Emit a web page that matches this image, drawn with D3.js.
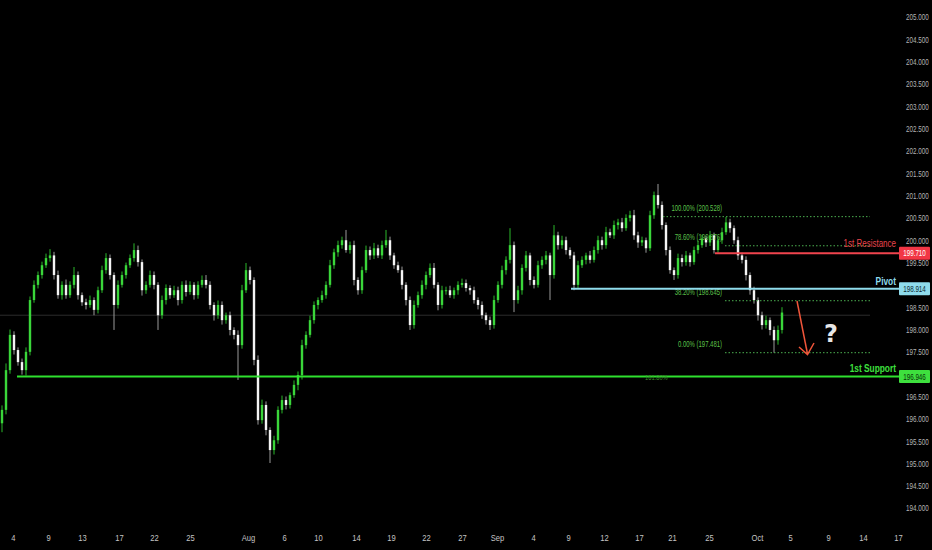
<!DOCTYPE html>
<html><head><meta charset="utf-8">
<script src="https://cdn.jsdelivr.net/npm/d3@7"></script>
<style>body{margin:0;background:#000;overflow:hidden}</style>
</head><body>
<svg id="c" width="932" height="550"></svg>
<script>
// ---------- DATA ----------
const firstOpen = 195.90;
const closes = [
196.20,197.09,197.88,197.54,197.27,197.09,197.50,198.66,199.00,199.22,
199.44,199.60,199.66,199.22,198.77,199.00,198.77,199.00,199.22,198.77,
198.61,198.55,198.66,198.44,198.88,199.33,199.60,199.22,198.55,199.00,
199.22,199.44,199.60,199.78,199.51,198.88,199.00,199.22,199.00,198.32,
198.66,198.93,198.77,198.88,198.66,199.00,198.84,199.00,198.77,199.00,
199.11,199.00,198.55,198.32,198.55,198.21,198.32,197.99,197.88,197.65,
198.88,199.33,199.11,197.32,195.97,196.31,195.75,195.30,195.52,196.20,
196.42,196.31,196.53,196.76,196.98,197.65,197.88,198.21,198.55,198.66,
198.77,199.00,199.44,199.73,199.89,200.00,199.78,199.89,199.11,198.88,
199.33,199.78,199.66,199.82,199.66,199.89,200.00,199.66,199.44,199.33,
199.00,198.66,198.10,198.55,198.77,199.00,199.22,199.38,199.00,198.55,
198.88,198.88,198.77,198.88,199.00,199.04,198.93,198.88,198.66,198.55,
198.32,198.21,198.10,198.66,199.00,199.33,199.56,199.89,198.66,198.88,
199.38,199.66,199.11,199.00,199.44,199.56,199.66,199.22,200.11,199.89,
200.00,199.78,199.66,199.00,199.44,199.56,199.66,199.56,199.78,200.00,
199.89,200.18,200.11,200.34,200.40,200.27,200.50,200.56,200.11,199.95,
200.00,199.82,200.56,201.01,200.79,200.34,199.78,199.33,199.22,199.60,
199.51,199.66,199.51,199.78,199.89,200.04,199.95,200.11,199.78,200.00,
200.18,200.40,200.27,200.00,199.66,199.56,199.22,198.88,198.66,198.32,
198.10,198.21,197.99,197.76,197.99,198.38
];
// wick extents in hundredths of a yen
const wickUp = [
10,15,12,8,6,8,10,8,10,8, 8,10,14,8,10,8,12,8,18,8, 6,8,10,6,8,10,11,8,6,10,
8,6,8,15,10,6,8,10,8,6, 10,8,6,10,8,8,10,8,6,8, 10,11,8,6,10,8,6,8,6,10,
12,16,8,6,10,12,8,6,10,8, 10,8,6,10,8,12,8,10,8,6, 10,8,12,8,10,8,23,8,10,6,
8,10,8,12,8,10,23,8,6,8, 8,6,8,10,8,10,8,10,11,6, 10,8,10,6,8,10,8,6,8,6,
8,6,8,10,8,10,8,38,8,10, 8,10,6,8,10,8,10,6,23,8, 10,8,6,8,10,8,6,10,8,10,
8,12,8,10,8,10,8,10,12,8, 8,6,10,8,25,8,6,8,6,10, 8,10,6,8,10,8,6,10,6,8,
10,12,8,6,8,6,8,6,8,6, 8,10,6,8,10,12
];
const wickDn = [
20,10,8,10,8,10,12,8,6,8, 8,6,8,10,8,10,8,6,8,10, 8,10,6,12,8,6,8,10,56,8,
6,8,6,8,10,12,8,6,10,33, 8,10,8,6,12,8,10,6,10,8, 6,8,10,12,8,10,8,12,10,78,
8,6,10,12,10,8,12,29,10,8, 8,10,8,6,12,10,8,6,8,10, 6,8,6,8,10,8,6,8,12,10,
8,6,10,8,6,8,6,10,8,6, 10,12,11,8,6,8,10,6,8,12, 8,10,6,8,10,6,8,10,8,10,
8,10,11,8,6,8,10,8,27,8, 10,8,12,8,6,8,10,56,8,10, 8,10,8,12,8,6,10,8,6,8,
10,8,6,8,10,8,6,8,10,12, 8,10,6,8,8,10,12,8,11,8, 10,8,10,6,8,6,10,8,8,6,
8,6,10,8,10,8,12,10,8,12, 10,8,12,28,10,8
];
// 199.000 and 197.000 sit under the level boxes in the reference, so they are not shown
const yTicks = [205,204.5,204,203.5,203,202.5,202,201.5,201,200.5,200,199.5,198.5,198,197.5,196.5,196,195.5,195,194.5,194];
const xTickLabels = ["4","9","13","17","22","25","Aug","6","10","14","19","22","27","Sep","4","9","12","17","21","25","Oct","5","9","14","17"];
const xTickIdx = [2.7,11.5,20,29.25,38,47,61.5,70.5,79,88.5,97.25,106,115,123.75,132.75,141.5,150.5,159.25,167.5,176.75,188.75,197,206.5,215.25,224];
const support = 196.946, pivot = 198.914, resistance = 199.710;
const fibHigh = 200.528, fibLow = 197.481;
const fibLevels = [1.0, 0.786, 0.382, 0.0];
const lastPrice = 198.32;

// ---------- SCALES ----------
const svg = d3.select("#c");
svg.append("rect").attr("width",932).attr("height",550).attr("fill","#000");
const x = d3.scaleLinear().domain([0,217]).range([2,870]);
const y = d3.scaleLinear().domain([194,205]).range([508.1,17]);
const FONT = "Liberation Sans, Arial, sans-serif";

// condensed text: placed at (px,py) and squeezed horizontally like the reference's narrow font
function ctext(parent, px, py, str, size, sx, anchor, fill, weight){
  return parent.append("text")
    .attr("transform", `translate(${px},${py}) scale(${sx},1)`)
    .attr("text-anchor", anchor || "start")
    .attr("fill", fill).attr("font-family", FONT).attr("font-size", size)
    .attr("font-weight", weight || "normal").text(str);
}

// current price faint line
svg.append("line").attr("x1",0).attr("x2",870).attr("y1",y(lastPrice)).attr("y2",y(lastPrice))
  .attr("stroke","#2c2c2c").attr("stroke-width",1);

// ---------- CANDLES ----------
const candles = closes.map((c,i)=>{
  const o = i===0 ? firstOpen : closes[i-1];
  return {i, o, c, h: Math.max(o,c)+wickUp[i]/100, l: Math.min(o,c)-wickDn[i]/100};
});
const UP="#3ad63a", UPW="#2bb82b", DN="#f4f4f4", DNW="#9a9a9a";
const g = svg.append("g");
g.selectAll("line.w").data(candles).join("line")
  .attr("x1",d=>x(d.i)).attr("x2",d=>x(d.i))
  .attr("y1",d=>y(d.h)).attr("y2",d=>y(d.l))
  .attr("stroke",d=>d.c>=d.o?UPW:DNW).attr("stroke-width",1);
g.selectAll("rect.b").data(candles).join("rect")
  .attr("x",d=>x(d.i)-1.2).attr("width",2.4)
  .attr("y",d=>y(Math.max(d.o,d.c)))
  .attr("height",d=>Math.max(1,Math.abs(y(d.o)-y(d.c))))
  .attr("fill",d=>d.c>=d.o?UP:DN);

// ---------- FIB ----------
const fibStart = 180.75;
const fib = svg.append("g");
fibLevels.forEach(f=>{
  const p = fibLow + f*(fibHigh-fibLow);
  const xs = f===1 ? x(165.25) : x(fibStart);
  fib.append("line").attr("x1",xs).attr("x2",870).attr("y1",y(p)).attr("y2",y(p))
    .attr("stroke","#4caf50").attr("stroke-width",1).attr("stroke-dasharray","1.5,2");
  ctext(fib, x(fibStart)-3, y(p)-6, (f*100).toFixed(2)+"% ("+p.toFixed(3)+")", 8.5, 0.7, "end", "#5cc04a");
});

// ---------- LEVEL LINES ----------
function level(price, startIdx, color, width){
  svg.append("line").attr("x1",x(startIdx)).attr("x2",899).attr("y1",y(price)).attr("y2",y(price))
    .attr("stroke",color).attr("stroke-width",width);
}
level(support, 3.75, "#2ee02e", 2);
level(pivot, 142.25, "#8fdcec", 2);
level(resistance, 178.25, "#f0444e", 2);

ctext(svg, 645, y(support)+3, "161.80%", 8, 0.72, "start", "#3c8f2c");
ctext(svg, 896, y(support)-5, "1st Support", 11, 0.76, "end", "#3ee03e", "bold");
ctext(svg, 896, y(pivot)-4, "Pivot", 11, 0.76, "end", "#8fdcec", "bold");
ctext(svg, 896, y(resistance)-6, "1st Resistance", 10, 0.8, "end", "#e8444c");

// ---------- Y AXIS ----------
const yAxis = d3.axisRight(y).tickValues(yTicks).tickSize(0).tickPadding(0).tickFormat(d3.format(".3f"));
const ya = svg.append("g").attr("transform","translate(906,0)").call(yAxis);
ya.select(".domain").remove();
ya.selectAll("text").attr("fill","#b4b4b4").attr("font-family",FONT).attr("font-size",9)
  .attr("transform","scale(0.7,1)");

// price label boxes
function box(price, fill, txt){
  const yy = y(price);
  svg.append("rect").attr("x",899).attr("y",yy-6.5).attr("width",31).attr("height",13).attr("fill",fill).attr("rx",1);
  ctext(svg, 914.5, yy+3, price.toFixed(3), 9, 0.7, "middle", txt);
}
box(resistance,"#f23645","#ffffff");
box(pivot,"#8fdcec","#0b2a30");
box(support,"#3ee03e","#0a300a");

// ---------- X AXIS ----------
const xAxis = d3.axisBottom(x).tickValues(xTickIdx).tickSize(0).tickPadding(0)
  .tickFormat((d,i)=>xTickLabels[i]);
const xa = svg.append("g").attr("transform","translate(0,534)").call(xAxis);
xa.select(".domain").remove();
xa.selectAll("text").attr("fill","#c4c4c4").attr("font-family",FONT).attr("font-size",9.5)
  .attr("transform","scale(0.8,1)");

// ---------- ARROW & QUESTION MARK ----------
const ar = svg.append("g").attr("stroke","#f0553a").attr("stroke-width",1.5).attr("fill","none");
ar.append("line").attr("x1",797).attr("y1",301).attr("x2",807.5).attr("y2",354);
ar.append("polyline").attr("points","799,347 807.5,354.5 814,343");
svg.append("text").attr("x",831).attr("y",342).attr("text-anchor","middle").attr("fill","#e6e6e6")
  .attr("font-family","DejaVu Sans, sans-serif").attr("font-size",24).attr("font-weight","bold").text("?");
</script>
</body></html>
